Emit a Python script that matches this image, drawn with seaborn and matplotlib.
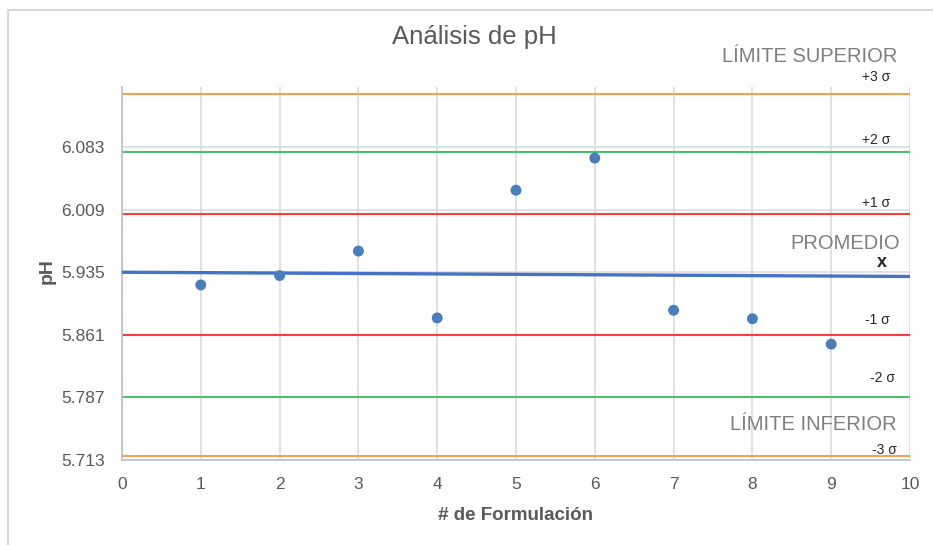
import matplotlib
matplotlib.use("Agg")
import matplotlib.pyplot as plt
from matplotlib.patches import Rectangle
import seaborn as sns
import pandas as pd

# pH measured for each formulation
formulacion = [1, 2, 3, 4, 5, 6, 7, 8, 9]
ph = [5.920, 5.931, 5.960, 5.881, 6.032, 6.070, 5.890, 5.880, 5.850]

# average line (end points at x = 0 and x = 10)
x_span = [0, 10]
promedio = [5.935, 5.930]

# control limits
limit_names = ["+3 σ", "+2 σ", "+1 σ", "-1 σ", "-2 σ", "-3 σ"]
limit_values = [6.1458, 6.0767, 6.0038, 5.8609, 5.7879, 5.7181]
limit_colors = ["#F5A05A", "#4CBF72", "#FF3B3B", "#FF3B3B", "#4CBF72", "#F5A05A"]

# axis ticks
y_ticks = [5.713, 5.787, 5.861, 5.935, 6.009, 6.083]
y_tick_labels = ["5.713", "5.787", "5.861", "5.935", "6.009", "6.083"]
x_ticks = [0, 1, 2, 3, 4, 5, 6, 7, 8, 9, 10]

sns.set_theme(style="white")
plt.rcParams["font.family"] = ["Liberation Sans Narrow", "Liberation Sans", "DejaVu Sans"]

GRAY_TEXT = "#595959"
GRID = "#D9D9D9"

fig = plt.figure(figsize=(9.33, 5.45), dpi=100)
ax = fig.add_axes([122 / 933, 1 - 460 / 545, (910 - 122) / 933, (460 - 87) / 545])

# chart frame
fig.patches.append(Rectangle((8 / 933, -0.2), 1.3, 1 - 10 / 545 + 0.2,
                             transform=fig.transFigure, fill=False,
                             edgecolor="#D9D9D9", linewidth=1.5, zorder=0))

ax.set_xlim(0, 10)
ax.set_ylim(5.713, 6.154)
ax.set_xticks(x_ticks)
ax.set_yticks(y_ticks)
ax.set_yticklabels(y_tick_labels)
ax.grid(True, color=GRID, linewidth=1.1, zorder=0)
ax.set_axisbelow(True)

for side in ["top", "right"]:
    ax.spines[side].set_visible(False)
for side in ["left", "bottom"]:
    ax.spines[side].set_color("#BFBFBF")
    ax.spines[side].set_linewidth(1.2)

ax.tick_params(axis="both", length=0, labelsize=12.5, labelcolor=GRAY_TEXT)
ax.tick_params(axis="y", pad=12.5)
ax.tick_params(axis="x", pad=12)

# control limit lines
for val, col in zip(limit_values, limit_colors):
    sns.lineplot(x=x_span, y=[val, val], color=col, linewidth=1.5, ax=ax, zorder=2)

# average line
sns.lineplot(x=x_span, y=promedio, color="#4472C4", linewidth=2.4, ax=ax, zorder=3)

# measurements
df = pd.DataFrame({"formulacion": formulacion, "ph": ph})
sns.scatterplot(data=df, x="formulacion", y="ph", color="#4A7EBB", s=62,
                edgecolor="none", ax=ax, zorder=4)

ax.set_xlabel("# de Formulación", fontsize=13.5, fontweight="bold", color=GRAY_TEXT, va="center")
ax.set_ylabel("pH", fontsize=14, fontweight="bold", color=GRAY_TEXT, va="center")
ax.xaxis.set_label_coords((516 - 122) / 788, -(515 - 460) / 373)
ax.yaxis.set_label_coords((47 - 122) / 788, (460 - 271) / 373)

ax.set_title("Análisis de pH", fontsize=18.5, color=GRAY_TEXT,
             x=(474 - 122) / 788, y=(460 - 45) / 373, va="center")

# annotations on the right side
sigma_pos = {"+3 σ": (9.746, 6.166), "+2 σ": (9.746, 6.0917), "+1 σ": (9.746, 6.017),
             "-1 σ": (9.746, 5.8787), "-2 σ": (9.81, 5.810), "-3 σ": (9.835, 5.7248)}
for name in limit_names:
    xx, yy = sigma_pos[name]
    ax.text(xx, yy, name, fontsize=10, color="#262626", ha="right", va="center", clip_on=False)

big = dict(fontsize=14.5, color="#7F7F7F", ha="right", va="center", clip_on=False)
ax.text(9.835, 6.190, "LÍMITE SUPERIOR", **big)
ax.text(9.873, 5.9686, "PROMEDIO", **big)
ax.text(9.835, 5.7544, "LÍMITE INFERIOR", **big)
ax.text(9.64, 5.946, "x", fontsize=13, fontweight="bold", color="#262626",
        ha="center", va="center", clip_on=False)

fig.savefig("out.png", dpi=100)
